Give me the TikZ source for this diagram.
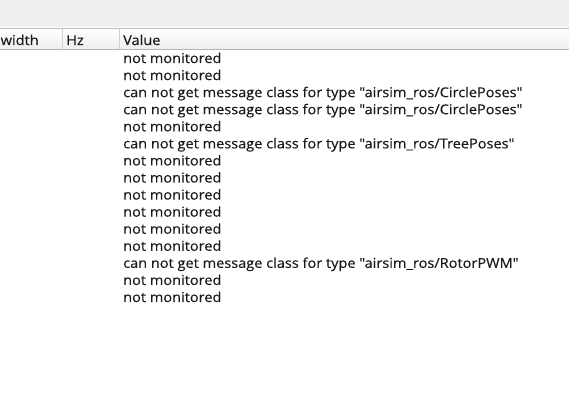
\documentclass[tikz,border=0pt]{standalone}
\usepackage{fontspec}
\setmainfont{Open Sans}[Ligatures=TeXOff, FakeStretch=1.07, FakeBold=0.25]
\definecolor{topbg}{HTML}{EFEFEF}
\definecolor{hdrbg}{HTML}{EEEEEE}
\definecolor{linec}{HTML}{BDBDBD}
\definecolor{linec2}{HTML}{B4B4B4}
\definecolor{sepc}{HTML}{D0D0D0}
\definecolor{textc}{HTML}{1A1A1A}
\begin{document}
\begin{tikzpicture}[x=1pt,y=-1pt,
  txt/.style={anchor=base west, inner sep=0pt, text=textc, font=\fontsize{13.6}{16}\selectfont}]
\useasboundingbox (0,0) rectangle (569,406);
\fill[white] (0,0) rectangle (569,406);
\fill[topbg] (0,0) rectangle (569,28);
\shade[top color=white, bottom color=hdrbg] (0,28) rectangle (569,49);
\draw[linec, line width=1pt] (0,28.5) -- (569,28.5);
\draw[linec2, line width=1pt] (0,49.5) -- (569,49.5);
\draw[sepc, line width=1pt] (62.5,29) -- (62.5,49);
\draw[sepc, line width=1pt] (119.5,29) -- (119.5,49);
\node[txt] (h1) at (0.5,45) {width};
\node[txt] (h2) at (66,45) {Hz};
\node[txt] (h3) at (123,45) {Value};
\def\nm{not monitored}
\def\cg#1{can not get message class for type "airsim\_ros/#1"}
\foreach \i/\t in {0/\nm,1/\nm,2/\cg{CirclePoses},3/\cg{CirclePoses},4/\nm,5/\cg{TreePoses},6/\nm,7/\nm,8/\nm,9/\nm,10/\nm,11/\nm,12/\cg{RotorPWM},13/\nm,14/\nm}
  \node[txt] (r\i) at (123,63+17.07*\i) {\t};
\end{tikzpicture}
\end{document}
